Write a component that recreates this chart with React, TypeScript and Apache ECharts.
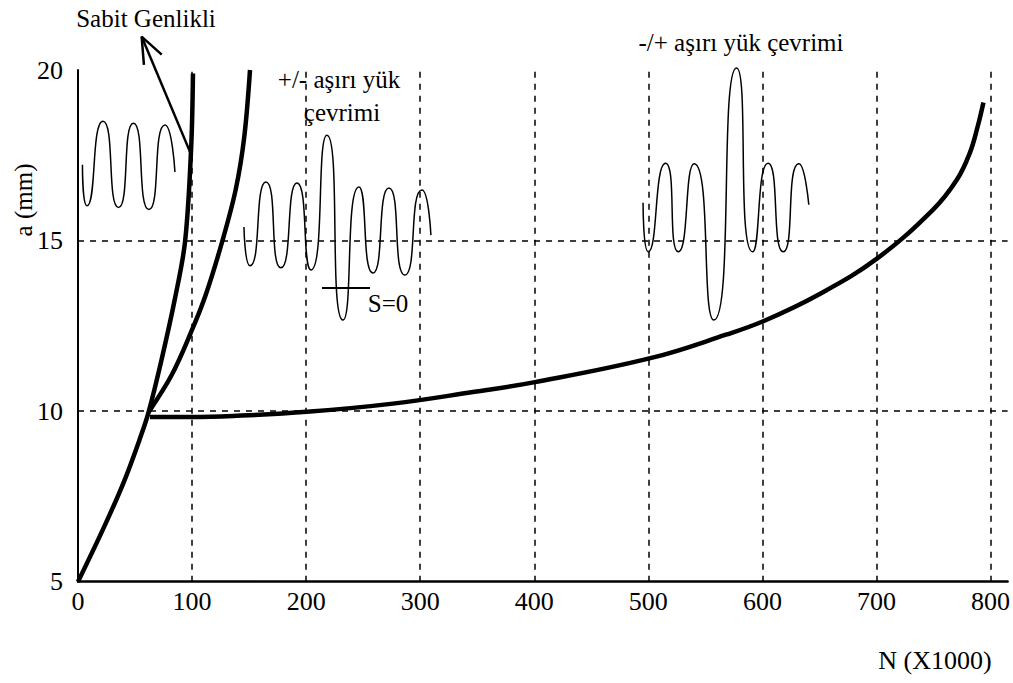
import React, { useEffect, useRef } from "react";
import * as echarts from "echarts";

// Axis ticks
const xTicks = [0, 100, 200, 300, 400, 500, 600, 700, 800];
const yTicks = [5, 10, 15, 20];
const xGridLines = [100, 200, 300, 400, 500, 600, 700, 800];
const yGridLines = [10, 15];

// Crack growth curves: N (x1000 cycles) vs a (mm)
const sabitN = [0, 22.8, 40.5, 55.3, 61.9, 73.2, 85.0, 93.9, 99.2, 100.8];
const sabitA = [5, 6.6, 7.95, 9.29, 9.97, 11.5, 13.3, 14.98, 17.72, 19.9];

const plusMinusN = [61.9, 82.0, 99.2, 111.7, 126.5, 138.3, 145.7, 150.8];
const plusMinusA = [9.97, 11.05, 12.32, 13.38, 14.98, 16.5, 18.02, 20.0];

const minusPlusN = [63.1, 98.2, 135.9, 200.7, 276.1, 346.2, 400.6, 502.7, 568.1, 601.8, 649.5, 700.4, 749.5, 770.5, 781.9, 788.8, 793.8];
const minusPlusA = [9.83, 9.83, 9.86, 9.98, 10.22, 10.56, 10.85, 11.56, 12.24, 12.65, 13.42, 14.47, 15.9, 16.78, 17.57, 18.35, 19.05];

// Load-history sketches (peaks / troughs)
const wave1N = [3.9, 7.9, 21.9, 35.5, 48.6, 62.2, 76.3, 85.0];
const wave1A = [17.22, 16.02, 18.5, 15.97, 18.44, 15.91, 18.39, 17.01];

const wave2N = [145.5, 150.8, 164.8, 177.9, 192.0, 204.2, 218.2, 232.3, 246.3, 258.6, 272.6, 286.6, 301.5, 309.4];
const wave2A = [15.4, 14.26, 16.72, 14.2, 16.69, 14.14, 18.09, 12.67, 16.57, 14.05, 16.54, 13.99, 16.48, 15.16];

const wave3N = [495.4, 500.0, 515.1, 526.3, 540.2, 557.4, 577.4, 591.5, 605.0, 618.3, 632.0, 640.7];
const wave3A = [16.11, 14.67, 17.27, 14.67, 17.25, 12.67, 20.06, 14.67, 17.27, 14.67, 17.25, 16.05];

// S=0 reference mark
const sZeroN = [213.9, 256.0];
const sZeroA = [13.61, 13.61];

// Arrow to "Sabit Genlikli"
const arrowN = [98.2, 55.8];
const arrowA = [17.6, 20.98];
const arrowHeadN = [57.8, 55.8, 73.4];
const arrowHeadA = [20.15, 20.98, 20.45];

const FONT = "Liberation Serif, Times New Roman, serif";

const zip = (xs: number[], ys: number[]) => xs.map((x, i) => [x, ys[i]]);

export default function App() {
  const ref = useRef<HTMLDivElement>(null);

  useEffect(() => {
    if (!ref.current) return;
    const chart = echarts.init(ref.current, undefined, { renderer: "svg" });

    const thick = (name: string, data: number[][], smooth = 0.35) => ({
      name,
      type: "line",
      data,
      smooth,
      symbol: "none",
      clip: false,
      silent: true,
      lineStyle: { color: "#000", width: 4.5 },
      z: 5,
    });
    const thin = (name: string, data: number[][], smooth: number | boolean = 0.75, width = 1.5) => ({
      name,
      type: "line",
      data,
      smooth,
      symbol: "none",
      clip: false,
      silent: true,
      lineStyle: { color: "#000", width },
      z: 4,
    });

    const textEl = (text: string, x: number, y: number, size = 25, rotation = 0) => ({
      type: "text",
      x,
      y,
      rotation,
      silent: true,
      style: {
        text,
        fill: "#000",
        fontSize: size,
        fontFamily: FONT,
        textAlign: "center",
        textVerticalAlign: "middle",
        align: "center",
        verticalAlign: "middle",
      },
    });

    chart.setOption({
      animation: false,
      backgroundColor: "#fff",
      textStyle: { fontFamily: FONT },
      grid: { left: 78, top: 70, right: 5, bottom: 101.3, containLabel: false },
      xAxis: {
        type: "value",
        min: xTicks[0],
        max: 815,
        interval: xTicks[1] - xTicks[0],
        axisLine: { show: true, lineStyle: { color: "#000", width: 2.5 } },
        axisTick: { show: false },
        splitLine: { show: false },
        axisLabel: {
          showMaxLabel: false,
          color: "#000",
          fontSize: 26,
          fontFamily: FONT,
          margin: 7,
        },
      },
      yAxis: {
        type: "value",
        min: yTicks[0],
        max: yTicks[yTicks.length - 1],
        interval: yTicks[1] - yTicks[0],
        axisLine: { show: true, lineStyle: { color: "#000", width: 2 } },
        axisTick: { show: false },
        splitLine: { show: false },
        axisLabel: {
          color: "#000",
          fontSize: 26,
          fontFamily: FONT,
          margin: 15,
        },
      },
      series: [
        {
          name: "grid",
          type: "line",
          data: [],
          silent: true,
          z: 1,
          markLine: {
            silent: true,
            symbol: "none",
            label: { show: false },
            emphasis: { disabled: true },
            lineStyle: { color: "#000", width: 1.5, type: [6, 6] },
            data: [
              ...xGridLines.map((v) => ({ xAxis: v })),
              ...yGridLines.map((v) => ({ yAxis: v })),
            ],
          },
        },
        thick("Sabit Genlikli", zip(sabitN, sabitA)),
        thick("+/- aşırı yük çevrimi", zip(plusMinusN, plusMinusA)),
        thick("-/+ aşırı yük çevrimi", zip(minusPlusN, minusPlusA), 0.4),
        thin("wave1", zip(wave1N, wave1A)),
        thin("wave2", zip(wave2N, wave2A)),
        thin("wave3", zip(wave3N, wave3A)),
        thin("S=0", zip(sZeroN, sZeroA), false, 2),
        thin("arrow", zip(arrowN, arrowA), false, 2.5),
        thin("arrowHead", zip(arrowHeadN, arrowHeadA), false, 2.5),
      ],
      graphic: [
        textEl("Sabit Genlikli", 146, 18),
        textEl("+/- aşırı yük", 339, 79),
        textEl("çevrimi", 342, 112),
        textEl("-/+ aşırı yük çevrimi", 741, 42),
        textEl("S=0", 388, 303),
        textEl("a (mm)", 23, 200, 25, Math.PI / 2),
        textEl("N (X1000)", 935, 660, 26),
      ],
    });

    return () => chart.dispose();
  }, []);

  return (
    <div
      ref={ref}
      style={{ position: "absolute", left: 0, top: 0, width: 1013, height: 683, background: "#fff" }}
    />
  );
}
